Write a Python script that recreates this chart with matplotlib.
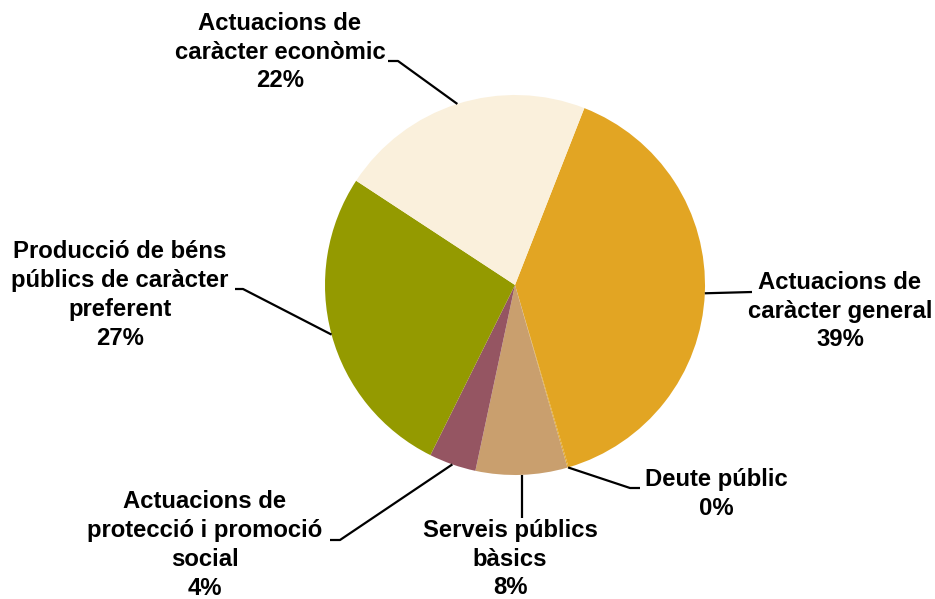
import numpy as np
import matplotlib
matplotlib.use("Agg")
import matplotlib.pyplot as plt

categories = ["Actuacions de\ncaràcter general", "Deute públic", "Serveis públics\nbàsics",
              "Actuacions de\nprotecció i promoció\nsocial", "Producció de béns\npúblics de caràcter\npreferent",
              "Actuacions de\ncaràcter econòmic"]
values = [39.5, 0.1, 7.8, 4.0, 26.9, 21.7]
pct_labels = ["39%", "0%", "8%", "4%", "27%", "22%"]
colors = ["#E2A523", "#E2A523", "#C99F6E", "#955562", "#949A00", "#FAF0DC"]

W, H = 935, 599
cx, cy, R = 515, 285, 190
fig = plt.figure(figsize=(W / 100, H / 100), dpi=100)
ax = fig.add_axes([0, 0, 1, 1])

wedges, _ = ax.pie(values, colors=colors, startangle=68.6, counterclock=False,
                   radius=1.0, center=(0, 0), frame=True,
                   wedgeprops=dict(linewidth=0))
ax.set_xlim(-cx / R, (W - cx) / R)
ax.set_ylim((cy - H) / R, cy / R)
ax.set_aspect("auto")
ax.axis("off")

def px(x, y):
    return ((x - cx) / R, (cy - y) / R)

# label layout: text center (pixel), elbow point, end of leader
layout = [
    dict(text=(840, 311), elbow=None, end=(752, 292)),
    dict(text=(716, 494), elbow=(630, 488), end=(640, 488)),
    dict(text=(510, 559), elbow=None, end=(520, 518)),
    dict(text=(205, 545), elbow=(340, 540), end=(330, 540)),
    dict(text=(120, 295), elbow=(243, 289), end=(235, 289)),
    dict(text=(280, 52), elbow=(398, 61), end=(388, 61)),
]

font = dict(family=["Liberation Sans", "DejaVu Sans"], fontweight="bold", fontsize=17.2)
for w, cat, pct, lay in zip(wedges, categories, pct_labels, layout):
    ang = np.deg2rad((w.theta1 + w.theta2) / 2)
    sx, sy = np.cos(ang), np.sin(ang)
    pts = [(sx, sy)]
    ex, ey = px(*lay["end"])
    if lay["elbow"] is not None:
        pts.append(px(*lay["elbow"]))
        pts.append((ex, ey))
    elif abs(sy) > 0.9:
        pts.append((sx, ey))
    else:
        pts.append((ex, ey))
    xs, ys = zip(*pts)
    ax.plot(xs, ys, color="black", lw=1.6, solid_capstyle="butt")
    tx, ty = px(*lay["text"])
    ax.text(tx, ty, cat + "\n" + pct, ha="center", va="center", linespacing=1.33, **font)

fig.savefig("out.png", dpi=100)
